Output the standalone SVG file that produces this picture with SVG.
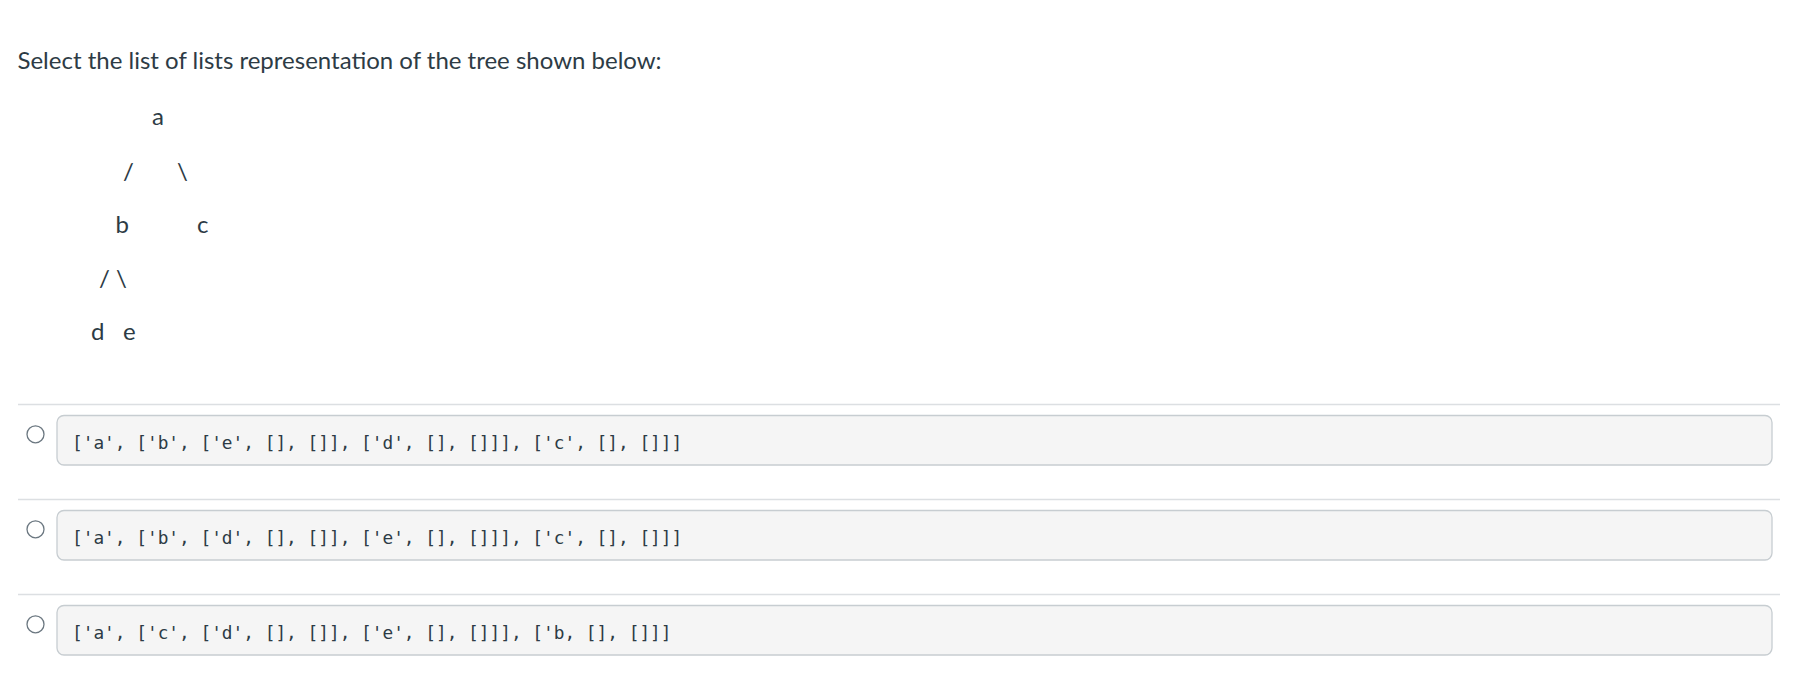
<svg xmlns="http://www.w3.org/2000/svg" width="1798" height="700" viewBox="0 0 1798 700">
<style>
.t{font-family:Lato,"Liberation Sans",sans-serif;font-size:24px;fill:#2d3b45}
.code{font-family:"DejaVu Sans Mono","Liberation Mono",monospace;font-size:17.8px;fill:#2d3b45}
.sep{stroke:#dcdfe2;stroke-width:1.3}
.radio{fill:#fff;stroke:#6b7780;stroke-width:1.3}
.box{fill:#f5f5f5;stroke:#c7cdd1;stroke-width:1.3}
</style>
<rect width="1798" height="700" fill="#fff"/>
<text id="question" class="t" x="17.5" y="69">Select the list of lists representation of the tree shown below:</text>
<g id="tree">
<text id="node-a" class="t" x="152" y="125">a</text>
<text class="t" x="123" y="180">/</text>
<text class="t" x="177" y="180">\</text>
<text id="node-b" class="t" x="115.5" y="233">b</text>
<text id="node-c" class="t" x="197" y="233">c</text>
<text class="t" x="99" y="287">/</text>
<text class="t" x="116" y="287">\</text>
<text id="node-d" class="t" x="91" y="340">d</text>
<text id="node-e" class="t" x="123" y="340">e</text>
</g>
<g id="option1">
<line class="sep" x1="18" y1="404.5" x2="1780" y2="404.5"/>
<circle class="radio" cx="35.5" cy="434.3" r="8.5"/>
<rect class="box" x="57" y="415.5" width="1715" height="49.5" rx="7"/>
<text class="code" x="72" y="449">['a', ['b', ['e', [], []], ['d', [], []]], ['c', [], []]]</text>
</g>
<g id="option2">
<line class="sep" x1="18" y1="499.5" x2="1780" y2="499.5"/>
<circle class="radio" cx="35.5" cy="529.3" r="8.5"/>
<rect class="box" x="57" y="510.5" width="1715" height="49.5" rx="7"/>
<text class="code" x="72" y="544">['a', ['b', ['d', [], []], ['e', [], []]], ['c', [], []]]</text>
</g>
<g id="option3">
<line class="sep" x1="18" y1="594.5" x2="1780" y2="594.5"/>
<circle class="radio" cx="35.5" cy="624.3" r="8.5"/>
<rect class="box" x="57" y="605.5" width="1715" height="49.5" rx="7"/>
<text class="code" x="72" y="639">['a', ['c', ['d', [], []], ['e', [], []]], ['b, [], []]]</text>
</g>
</svg>
